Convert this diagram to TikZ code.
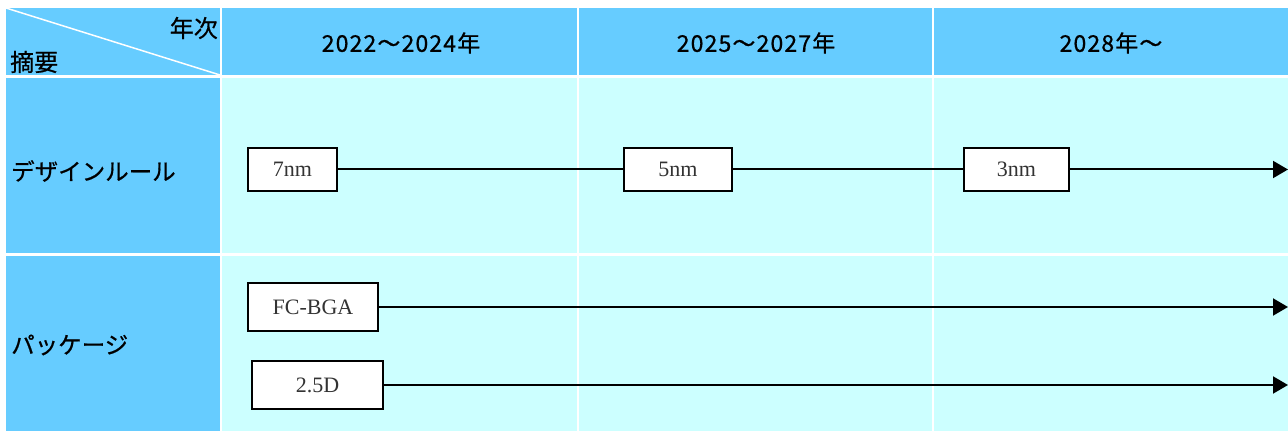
\documentclass[tikz,border=0pt]{standalone}
\usepackage{fontspec}
\setmainfont{Liberation Serif}
\newfontfamily\jp[FakeBold=0.6]{Noto Sans CJK JP}
\newfontfamily\jpyear[LetterSpace=5,FakeBold=0.8]{Noto Sans CJK JP}
\usetikzlibrary{arrows.meta}
\definecolor{headblue}{HTML}{66CCFF}
\definecolor{bodycyan}{HTML}{CCFFFF}
\begin{document}
\begin{tikzpicture}[x=1bp,y=-1bp,
  head/.style={fill=headblue,draw=none},
  body/.style={fill=bodycyan,draw=none},
  jptext/.style={font=\jp\fontsize{23.5bp}{27bp}\selectfont,inner sep=0pt},
  cornertext/.style={font=\jp\fontsize{24bp}{27bp}\selectfont,inner sep=0pt},
  yeartext/.style={font=\jpyear\fontsize{23bp}{27bp}\selectfont,inner sep=0pt},
  itembox/.style={draw=black,line width=2bp,fill=white,inner sep=0pt,
    text=black!80,font=\fontsize{22bp}{26bp}\selectfont},
  conn/.style={line width=2bp,draw=black},
  arr/.style={conn,-{Triangle[length=15bp,width=17bp]}}]
\useasboundingbox (0,0) rectangle (1288,433);
\fill[white] (0,0) rectangle (1288,433);
% header row
\fill[head] (6,8) rectangle (220,75);
\fill[head] (222,8) rectangle (577,75);
\fill[head] (579,8) rectangle (932,75);
\fill[head] (934,8) rectangle (1288,75);
% left column
\fill[head] (6,78) rectangle (220,253);
\fill[head] (6,256) rectangle (220,431);
% body
\fill[body] (222,78) rectangle (577,253);
\fill[body] (579,78) rectangle (932,253);
\fill[body] (934,78) rectangle (1288,253);
\fill[body] (222,256) rectangle (577,431);
\fill[body] (579,256) rectangle (932,431);
\fill[body] (934,256) rectangle (1288,431);
% diagonal
\draw[white,line width=1.5bp] (6,8) -- (220,75);
% header texts
\node[cornertext,anchor=east] (nenji) at (218,28) {年次};
\node[cornertext,anchor=west] (tekiyo) at (10,62) {摘要};
\node[yeartext] (y1) at (401,43) {2022～2024年};
\node[yeartext] (y2) at (756,43) {2025～2027年};
\node[yeartext] (y3) at (1111,43) {2028年～};
% row labels
\node[jptext,anchor=west] (design) at (11,171) {デザインルール};
\node[jptext,anchor=west] (pkg) at (11,345) {パッケージ};
% boxes
\node[itembox,minimum width=89bp,minimum height=43bp] (n7) at (292.5,169.5) {7nm};
\node[itembox,minimum width=108bp,minimum height=43bp] (n5) at (678,169.5) {5nm};
\node[itembox,minimum width=105bp,minimum height=43bp] (n3) at (1016.5,169.5) {3nm};
\node[itembox,minimum width=130bp,minimum height=48bp] (fc) at (313,307) {FC-BGA};
\node[itembox,minimum width=131bp,minimum height=48bp] (d25) at (317.5,385) {2.5D};
\coordinate (e1) at (1288,169.5);
\coordinate (e2) at (1288,307);
\coordinate (e3) at (1288,385);
% connectors
\draw[conn] (n7) -- (n5);
\draw[conn] (n5) -- (n3);
\draw[arr] (n3) -- (e1);
\draw[arr] (fc) -- (e2);
\draw[arr] (d25) -- (e3);
\end{tikzpicture}
\end{document}
